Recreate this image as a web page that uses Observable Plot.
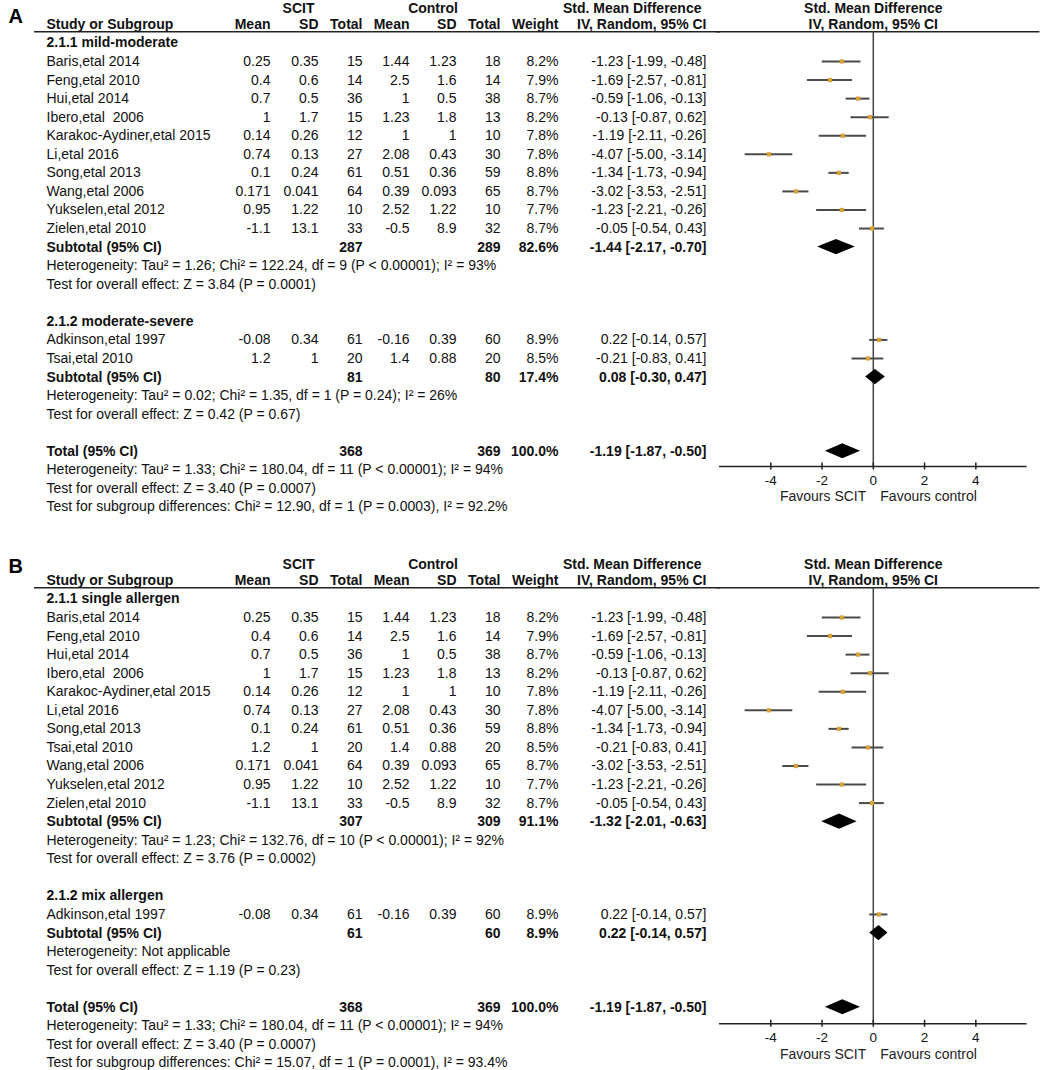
<!DOCTYPE html>
<html><head><meta charset="utf-8">
<script src="https://cdn.jsdelivr.net/npm/d3@7"></script>
<script src="https://cdn.jsdelivr.net/npm/@observablehq/plot@0.6"></script>
<style>
body{margin:0;background:#fff;width:1040px;overflow:hidden}
.panel{display:flex;width:1040px}
.panel svg{display:block;overflow:visible}
</style></head><body><div id="chart"></div>
<script>
// ---- study-level data (same studies in both panels) ----
const studies  = ["Adkinson,etal 1997","Baris,etal 2014","Feng,etal 2010","Hui,etal 2014","Ibero,etal  2006","Karakoc-Aydiner,etal 2015","Li,etal 2016","Song,etal 2013","Tsai,etal 2010","Wang,etal 2006","Yukselen,etal 2012","Zielen,etal 2010"];
const scitMean = [-0.08, 0.25, 0.4, 0.7, 1, 0.14, 0.74, 0.1, 1.2, 0.171, 0.95, -1.1];
const scitSD   = [0.34, 0.35, 0.6, 0.5, 1.7, 0.26, 0.13, 0.24, 1, 0.041, 1.22, 13.1];
const scitN    = [61, 15, 14, 36, 15, 12, 27, 61, 20, 64, 10, 33];
const ctrlMean = [-0.16, 1.44, 2.5, 1, 1.23, 1, 2.08, 0.51, 1.4, 0.39, 2.52, -0.5];
const ctrlSD   = [0.39, 1.23, 1.6, 0.5, 1.8, 1, 0.43, 0.36, 0.88, 0.093, 1.22, 8.9];
const ctrlN    = [60, 18, 14, 38, 13, 10, 30, 59, 20, 65, 10, 32];
const weight   = [8.9, 8.2, 7.9, 8.7, 8.2, 7.8, 7.8, 8.8, 8.5, 8.7, 7.7, 8.7];
const smd      = [0.22, -1.23, -1.69, -0.59, -0.13, -1.19, -4.07, -1.34, -0.21, -3.02, -1.23, -0.05];
const ciLow    = [-0.14, -1.99, -2.57, -1.06, -0.87, -2.11, -5.00, -1.73, -0.83, -3.53, -2.21, -0.54];
const ciHigh   = [0.57, -0.48, -0.81, -0.13, 0.62, -0.26, -3.14, -0.94, 0.41, -2.51, -0.26, 0.43];

// ---- panel A subgroups ----
const groupTitlesA = ["2.1.1 mild-moderate", "2.1.2 moderate-severe"];
const groupStudiesA = [
  ["Baris,etal 2014","Feng,etal 2010","Hui,etal 2014","Ibero,etal  2006","Karakoc-Aydiner,etal 2015","Li,etal 2016","Song,etal 2013","Wang,etal 2006","Yukselen,etal 2012","Zielen,etal 2010"],
  ["Adkinson,etal 1997","Tsai,etal 2010"]
];
const subScitNA = [287, 81];
const subCtrlNA = [289, 80];
const subWeightA = [82.6, 17.4];
const subSmdA = [-1.44, 0.08];
const subLowA = [-2.17, -0.30];
const subHighA = [-0.70, 0.47];
const hetA = ["Heterogeneity: Tau² = 1.26; Chi² = 122.24, df = 9 (P < 0.00001); I² = 93%", "Heterogeneity: Tau² = 0.02; Chi² = 1.35, df = 1 (P = 0.24); I² = 26%"];
const zTestA = ["Test for overall effect: Z = 3.84 (P = 0.0001)", "Test for overall effect: Z = 0.42 (P = 0.67)"];
const subgroupTestA = "Test for subgroup differences: Chi² = 12.90, df = 1 (P = 0.0003), I² = 92.2%";

// ---- panel B subgroups ----
const groupTitlesB = ["2.1.1 single allergen", "2.1.2 mix allergen"];
const groupStudiesB = [
  ["Baris,etal 2014","Feng,etal 2010","Hui,etal 2014","Ibero,etal  2006","Karakoc-Aydiner,etal 2015","Li,etal 2016","Song,etal 2013","Tsai,etal 2010","Wang,etal 2006","Yukselen,etal 2012","Zielen,etal 2010"],
  ["Adkinson,etal 1997"]
];
const subScitNB = [307, 61];
const subCtrlNB = [309, 60];
const subWeightB = [91.1, 8.9];
const subSmdB = [-1.32, 0.22];
const subLowB = [-2.01, -0.14];
const subHighB = [-0.63, 0.57];
const hetB = ["Heterogeneity: Tau² = 1.23; Chi² = 132.76, df = 10 (P < 0.00001); I² = 92%", "Heterogeneity: Not applicable"];
const zTestB = ["Test for overall effect: Z = 3.76 (P = 0.0002)", "Test for overall effect: Z = 1.19 (P = 0.23)"];
const subgroupTestB = "Test for subgroup differences: Chi² = 15.07, df = 1 (P = 0.0001), I² = 93.4%";

// ---- overall total (both panels) ----
const totalN = [368, 369];
const totalWeight = 100.0;
const totalEffect = [-1.19, -1.87, -0.50];
const hetTotal = "Heterogeneity: Tau² = 1.33; Chi² = 180.04, df = 11 (P < 0.00001); I² = 94%";
const zTotal = "Test for overall effect: Z = 3.40 (P = 0.0007)";

// ---- axis ----
const xTicks = [-4, -2, 0, 2, 4];
const favourLabels = ["Favours SCIT", "Favours control"];

// ---- layout (pixels / row units) ----
const FONT = "'Liberation Sans', Arial, Helvetica, sans-serif";
const ROW_H = 18.56;
const col = {m1: 270, s1: 318, n1: 362, m2: 409, s2: 456, n2: 500, w: 558, ci: 706};
const LEFT_X = 46;
const TOP_ROW = -2.86;

const fmtCI = (e, l, h) => `${e.toFixed(2)} [${l.toFixed(2)}, ${h.toFixed(2)}]`;

function buildPanel(p) {
  const labels = [];   // left text {row,text,bold}
  const cells = [];    // right-aligned cells {row,x,text,bold}
  const pts = [];      // study estimates
  const diamonds = []; // {id,row,est,lo,hi}
  let r = -1;
  p.titles.forEach((title, gi) => {
    labels.push({row: r, text: title, bold: true}); r++;
    p.groups[gi].forEach(name => {
      const i = studies.indexOf(name);
      labels.push({row: r, text: name, bold: false});
      cells.push({row: r, x: col.m1, text: String(scitMean[i]), bold: false});
      cells.push({row: r, x: col.s1, text: String(scitSD[i]), bold: false});
      cells.push({row: r, x: col.n1, text: String(scitN[i]), bold: false});
      cells.push({row: r, x: col.m2, text: String(ctrlMean[i]), bold: false});
      cells.push({row: r, x: col.s2, text: String(ctrlSD[i]), bold: false});
      cells.push({row: r, x: col.n2, text: String(ctrlN[i]), bold: false});
      cells.push({row: r, x: col.w, text: weight[i].toFixed(1) + "%", bold: false});
      cells.push({row: r, x: col.ci, text: fmtCI(smd[i], ciLow[i], ciHigh[i]), bold: false});
      pts.push({row: r, est: smd[i], lo: ciLow[i], hi: ciHigh[i]});
      r++;
    });
    labels.push({row: r, text: "Subtotal (95% CI)", bold: true});
    cells.push({row: r, x: col.n1, text: String(p.subScit[gi]), bold: true});
    cells.push({row: r, x: col.n2, text: String(p.subCtrl[gi]), bold: true});
    cells.push({row: r, x: col.w, text: p.subW[gi].toFixed(1) + "%", bold: true});
    cells.push({row: r, x: col.ci, text: fmtCI(p.subE[gi], p.subL[gi], p.subH[gi]), bold: true});
    diamonds.push({id: "g" + gi, row: r, est: p.subE[gi], lo: p.subL[gi], hi: p.subH[gi]});
    r++;
    labels.push({row: r, text: p.het[gi], bold: false}); r++;
    labels.push({row: r, text: p.z[gi], bold: false}); r++;
    r++;
  });
  labels.push({row: r, text: "Total (95% CI)", bold: true});
  cells.push({row: r, x: col.n1, text: String(totalN[0]), bold: true});
  cells.push({row: r, x: col.n2, text: String(totalN[1]), bold: true});
  cells.push({row: r, x: col.w, text: totalWeight.toFixed(1) + "%", bold: true});
  cells.push({row: r, x: col.ci, text: fmtCI(...totalEffect), bold: true});
  diamonds.push({id: "t", row: r, est: totalEffect[0], lo: totalEffect[1], hi: totalEffect[2]});
  r++;
  labels.push({row: r, text: hetTotal, bold: false}); r++;
  labels.push({row: r, text: zTotal, bold: false}); r++;
  labels.push({row: r, text: p.subgroupTest, bold: false});

  // header cells
  const head = [
    {row: TOP_ROW, x: (col.m1 + col.n1) / 2 - 18, text: "SCIT", anchor: "middle"},
    {row: TOP_ROW, x: (col.m2 + col.n2) / 2 - 22, text: "Control", anchor: "middle"},
    {row: TOP_ROW, x: col.ci - 5, text: "Std. Mean Difference", anchor: "end"},
    {row: -2, x: LEFT_X, text: "Study or Subgroup", anchor: "start"},
    {row: -2, x: col.m1, text: "Mean", anchor: "end"},
    {row: -2, x: col.s1, text: "SD", anchor: "end"},
    {row: -2, x: col.n1, text: "Total", anchor: "end"},
    {row: -2, x: col.m2, text: "Mean", anchor: "end"},
    {row: -2, x: col.s2, text: "SD", anchor: "end"},
    {row: -2, x: col.n2, text: "Total", anchor: "end"},
    {row: -2, x: col.w, text: "Weight", anchor: "end"},
    {row: -2, x: col.ci, text: "IV, Random, 95% CI", anchor: "end"}
  ];

  // diamond outlines as areaX polygons
  const dpts = [];
  diamonds.forEach(d => {
    dpts.push({id: d.id, y: d.row - 0.41, x1: d.est, x2: d.est});
    dpts.push({id: d.id, y: d.row, x1: d.lo, x2: d.hi});
    dpts.push({id: d.id, y: d.row + 0.41, x1: d.est, x2: d.est});
  });

  const headerRow = -1.6;
  const yScale = {domain: [0, 24], range: [p.c0, p.c0 + 24 * ROW_H], axis: null};
  const txt = {fontSize: 14, lineAnchor: "middle", fill: "#111", fontFamily: FONT};
  const H = p.height;

  const table = Plot.plot({
    width: 720, height: H, margin: 0,
    style: {fontFamily: FONT, background: "#fff"},
    x: {type: "identity", axis: null},
    y: yScale,
    marks: [
      Plot.ruleY([headerRow], {x1: () => 34, x2: () => 720, stroke: "#222", strokeWidth: 1.6}),
      Plot.text([p.label], {x: () => 8, y: () => p.labelRow, text: d => d, textAnchor: "start", lineAnchor: "middle", fontSize: 20, fontWeight: "bold", fill: "#000", fontFamily: FONT}),
      ...["start", "end", "middle"].map(a => Plot.text(head.filter(h => h.anchor === a), {x: "x", y: "row", text: "text", textAnchor: a, fontWeight: "bold", ...txt})),
      Plot.text(labels.filter(d => !d.bold), {x: () => LEFT_X, y: "row", text: "text", textAnchor: "start", ...txt}),
      Plot.text(labels.filter(d => d.bold), {x: () => LEFT_X, y: "row", text: "text", textAnchor: "start", fontWeight: "bold", ...txt}),
      Plot.text(cells.filter(d => !d.bold), {x: "x", y: "row", text: "text", textAnchor: "end", ...txt}),
      Plot.text(cells.filter(d => d.bold), {x: "x", y: "row", text: "text", textAnchor: "end", fontWeight: "bold", ...txt})
    ]
  });

  const forest = Plot.plot({
    width: 320, height: H, margin: 0,
    style: {fontFamily: FONT, background: "#fff"},
    x: {domain: [-6, 6], range: [-1, 306.6], axis: null},
    y: yScale,
    marks: [
      Plot.ruleY([headerRow], {x1: () => -6.1, x2: () => 6.5, stroke: "#222", strokeWidth: 1.6}),
      Plot.text(["Std. Mean Difference"], {x: () => 0, y: () => TOP_ROW, text: d => d, textAnchor: "middle", fontWeight: "bold", ...txt}),
      Plot.text(["IV, Random, 95% CI"], {x: () => 0, y: () => -2, text: d => d, textAnchor: "middle", fontWeight: "bold", ...txt}),
      Plot.ruleX([0], {y1: () => headerRow, y2: () => p.axisRow, stroke: "#444", strokeWidth: 1.5}),
      Plot.ruleY([p.axisRow], {x1: () => -6, x2: () => 6, stroke: "#222", strokeWidth: 1.5}),
      Plot.ruleX(xTicks, {x: d => d, y1: () => p.axisRow, y2: () => p.axisRow, insetTop: -3.5, insetBottom: -3.5, stroke: "#222", strokeWidth: 1.5}),
      Plot.text(xTicks, {x: d => d, y: () => p.axisRow, dy: 14, text: d => String(d), textAnchor: "middle", ...txt, fontSize: 13.5}),
      Plot.text([favourLabels[0]], {x: () => 0, y: () => p.axisRow, dy: 30.5, dx: -7, text: d => d, textAnchor: "end", ...txt, fill: "#222"}),
      Plot.text([favourLabels[1]], {x: () => 0, y: () => p.axisRow, dy: 30.5, dx: 7, text: d => d, textAnchor: "start", ...txt, fill: "#222"}),
      Plot.ruleY(pts, {y: "row", x1: "lo", x2: "hi", stroke: "#4a4a4a", strokeWidth: 2}),
      Plot.dot(pts, {x: "est", y: "row", symbol: "square", r: 2.4, fill: "#d9a136", stroke: "none"}),
      Plot.areaX(dpts, {y: "y", x1: "x1", x2: "x2", z: "id", fill: "#000", curve: "linear"})
    ]
  });

  const div = document.createElement("div");
  div.className = "panel";
  div.append(table, forest);
  return div;
}

const chart = document.getElementById("chart");
chart.append(buildPanel({
  label: "A", labelRow: -2.4, c0: 61, axisRow: 21.82, height: 560,
  titles: groupTitlesA, groups: groupStudiesA,
  subScit: subScitNA, subCtrl: subCtrlNA, subW: subWeightA,
  subE: subSmdA, subL: subLowA, subH: subHighA,
  het: hetA, z: zTestA, subgroupTest: subgroupTestA
}));
chart.append(buildPanel({
  label: "B", labelRow: -2.75, c0: 57, axisRow: 21.89, height: 510,
  titles: groupTitlesB, groups: groupStudiesB,
  subScit: subScitNB, subCtrl: subCtrlNB, subW: subWeightB,
  subE: subSmdB, subL: subLowB, subH: subHighB,
  het: hetB, z: zTestB, subgroupTest: subgroupTestB
}));
</script></body></html>
